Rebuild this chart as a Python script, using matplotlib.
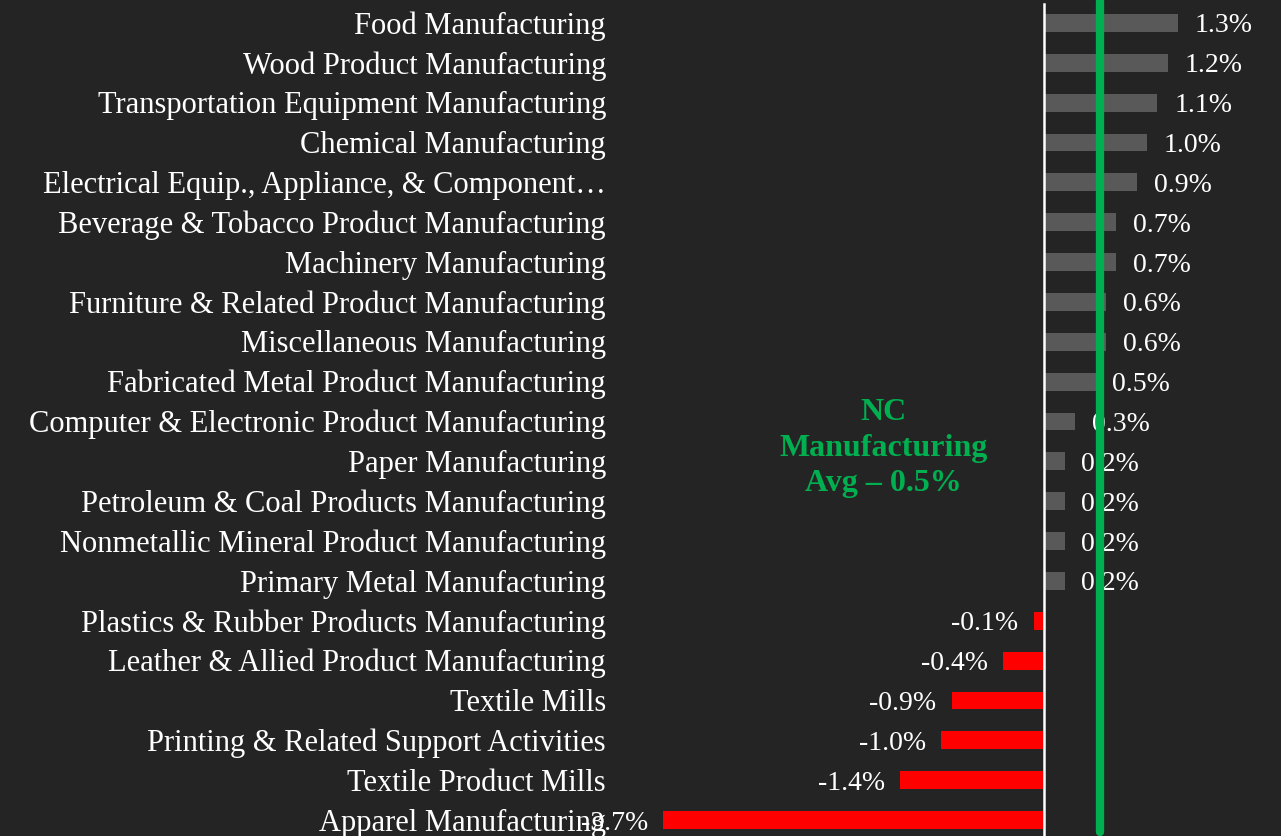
import numpy as np
import matplotlib
matplotlib.use("Agg")
from matplotlib import pyplot as plt

categorias = [
    "Food Manufacturing",
    "Wood Product Manufacturing",
    "Transportation Equipment Manufacturing",
    "Chemical Manufacturing",
    "Electrical Equip., Appliance, & Component\u2026",
    "Beverage & Tobacco Product Manufacturing",
    "Machinery Manufacturing",
    "Furniture & Related Product Manufacturing",
    "Miscellaneous Manufacturing",
    "Fabricated Metal Product Manufacturing",
    "Computer & Electronic Product Manufacturing",
    "Paper Manufacturing",
    "Petroleum & Coal Products Manufacturing",
    "Nonmetallic Mineral Product Manufacturing",
    "Primary Metal Manufacturing",
    "Plastics & Rubber Products Manufacturing",
    "Leather & Allied Product Manufacturing",
    "Textile Mills",
    "Printing & Related Support Activities",
    "Textile Product Mills",
    "Apparel Manufacturing",
]
valores = [1.3, 1.2, 1.1, 1.0, 0.9, 0.7, 0.7, 0.6, 0.6, 0.5, 0.3,
           0.2, 0.2, 0.2, 0.2, -0.1, -0.4, -0.9, -1.0, -1.4, -3.7]
promedio = 0.54
texto_prom = "NC\nManufacturing\nAvg \u2013 0.5%"

fondo = "#242424"
fuente = "Liberation Serif"

fig = plt.figure(figsize=(12.81, 8.37), dpi=100)
fig.patch.set_facecolor(fondo)
ax = fig.add_axes([620 / 1281, 0, (1281 - 620) / 1281, 1])
ax.set_facecolor(fondo)

y = np.arange(len(categorias))
colores = ["#595959" if v >= 0 else "#ff0000" for v in valores]
ax.barh(y, valores, height=0.45, color=colores, zorder=2)

ax.set_xlim(-4.12, 2.30)
ax.set_ylim(20.4, -0.6)

# eje vertical blanco en cero
ax.plot([0, 0], [-0.48, 20.4], color="white", lw=1.8, zorder=3, clip_on=False)

# etiquetas de categoria
for i, c in enumerate(categorias):
    ax.annotate(c, xy=(0, i), xycoords=("axes fraction", "data"),
                xytext=(-10, -1.5), textcoords="offset points",
                ha="right", va="center", color="white",
                fontsize=22, family=fuente, annotation_clip=False)

# etiquetas de valor
for i, v in enumerate(valores):
    if v >= 0:
        ax.annotate(f"{v:.1f}%", xy=(v, i), xytext=(12, -1.5), textcoords="offset points",
                    ha="left", va="center", color="white", fontsize=20,
                    family=fuente, zorder=4)
    else:
        ax.annotate(f"{v:.1f}%", xy=(v, i), xytext=(-11, -1.5), textcoords="offset points",
                    ha="right", va="center", color="white", fontsize=20,
                    family=fuente, zorder=4)

# linea de promedio (encima de las etiquetas)
ax.plot([promedio, promedio], [-0.55, 20.3], color="#00b050", lw=6,
        solid_capstyle="round", zorder=5, clip_on=False)
ax.text(-1.56, 10.65, texto_prom, ha="center", va="center", color="#00b050",
        fontsize=23, fontweight="bold", family=fuente, linespacing=1.3)

ax.set_xticks([])
ax.set_yticks([])
for s in ax.spines.values():
    s.set_visible(False)

fig.savefig("out.png", dpi=100, facecolor=fondo)
